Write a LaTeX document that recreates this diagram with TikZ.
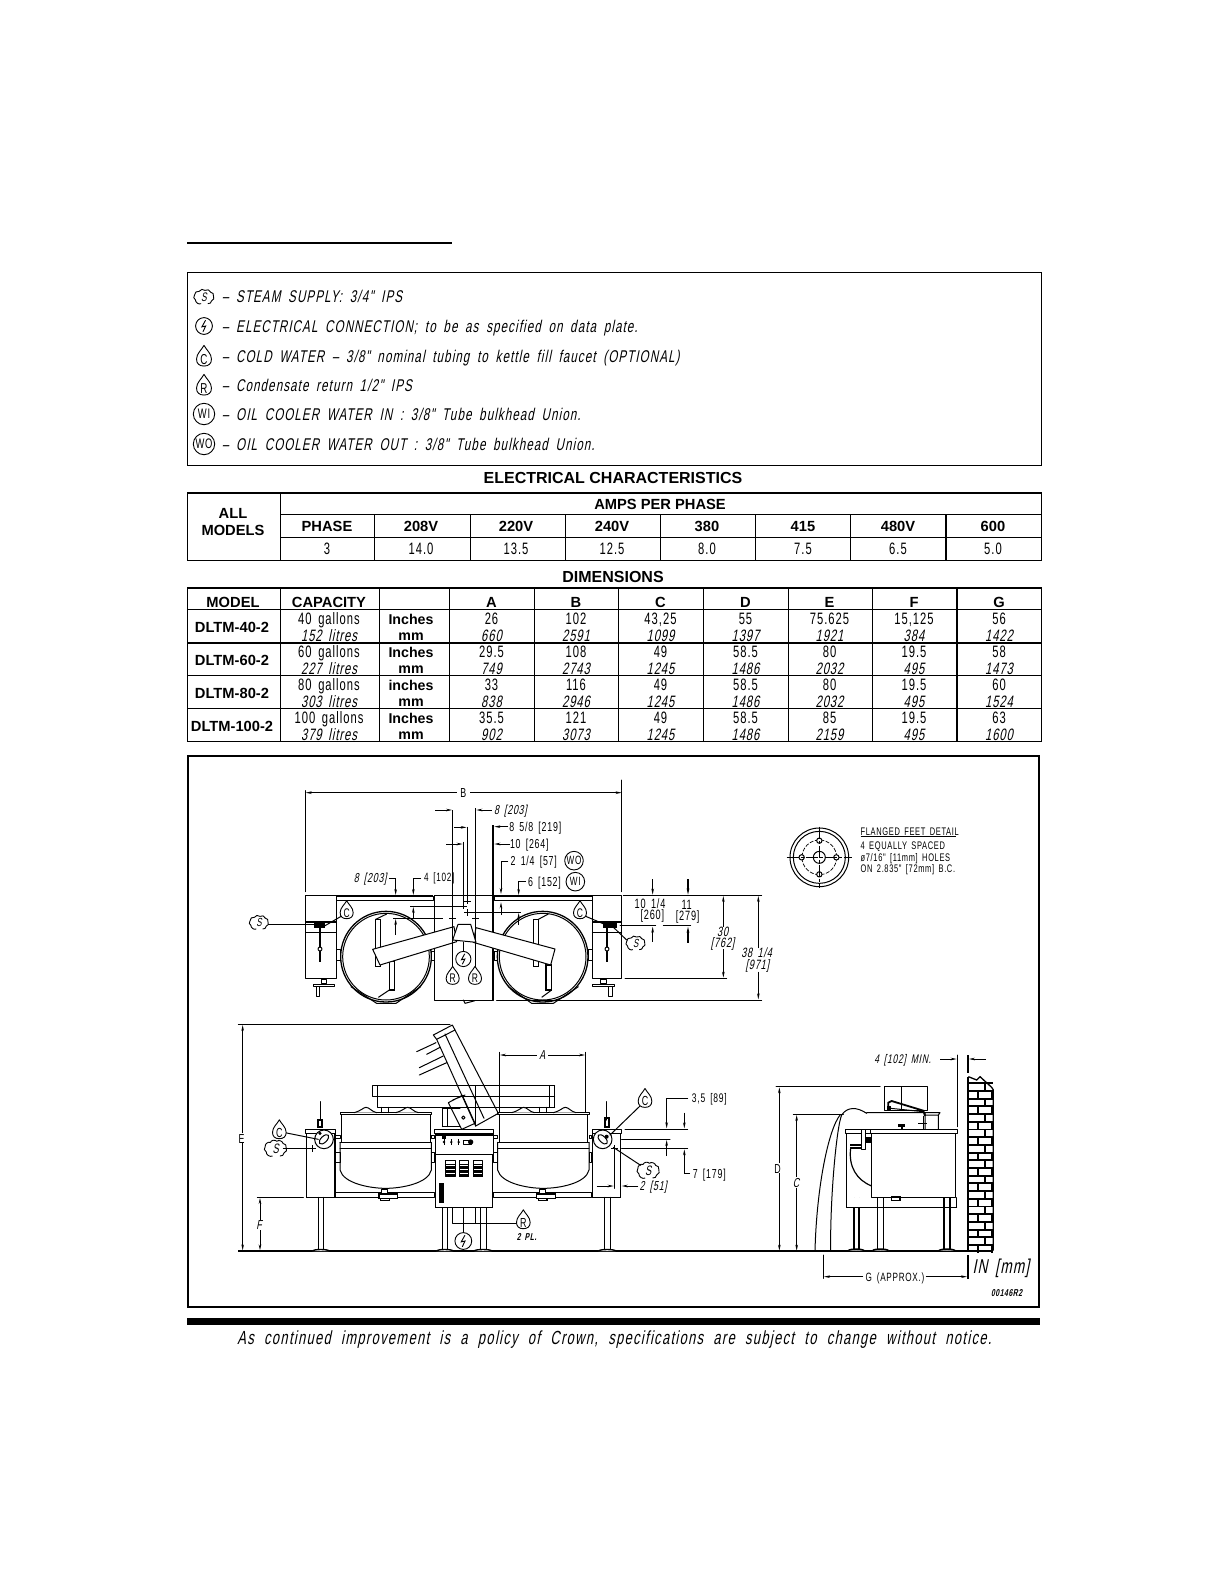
\documentclass[tikz,border=0pt]{standalone}
\usepackage{fontspec}
\setmainfont{Liberation Sans}
\usetikzlibrary{arrows.meta}
\newfontfamily\cad[FakeSlant=0.2,FakeStretch=0.68,LetterSpace=6,WordSpace=1.6]{Liberation Sans}
\newfontfamily\cadu[FakeStretch=0.68,LetterSpace=6,WordSpace=1.6]{Liberation Sans}
\newfontfamily\cadf[FakeSlant=0.2,FakeStretch=0.68,LetterSpace=7,WordSpace=2.1]{Liberation Sans}
\newfontfamily\cadl[FakeSlant=0.2,FakeStretch=0.68,LetterSpace=6.5,WordSpace=1.8]{Liberation Sans}
\newcommand\fsz[1]{\fontsize{#1}{#1}\selectfont}
\tikzset{
 txt/.style={inner sep=0pt,outer sep=0pt,text depth=0pt},
 cadit/.style={txt,font=\cad\fsz{#1},text height=#1*0.72pt},
 cadit/.default=13,
 cadup/.style={txt,font=\cadu\fsz{#1},text height=#1*0.72pt},
 cadup/.default=13,
 legtext/.style={txt,font=\cadl\fsz{17},text height=12.2pt,anchor=west},
 bold/.style={txt,font=\bfseries\fsz{#1},text height=#1*0.72pt},
 bold/.default=14,
 ln/.style={line width=1pt,line cap=round,line join=round},
 thin/.style={line width=0.7pt},
 hv/.style={line width=1.7pt},
 dimar/.style={line width=0.8pt,-{Stealth[length=6pt,width=2.6pt]}},
 symline/.style={line width=0.9pt,line join=round},
 tb/.style={line width=1pt},
 tbh/.style={line width=2pt},
}
% symbols: #1 scale, #2 name, #3 x, #4 y, #5 letter
\newcommand\dropsym[5][1]{\begin{scope}[shift={(#3,#4)},x=1pt,y=-1pt,scale=#1,transform shape]
 \draw[symline,fill=white] (0,-11) .. controls (-2,-7) and (-6.5,-4) .. (-6.5,1) .. controls (-6.5,5) and (-4,7) .. (0,7) .. controls (4,7) and (6.5,5) .. (6.5,1) .. controls (6.5,-4) and (2,-7) .. (0,-11) -- cycle;
 \node[cadup=12.5] (#2) at (0,1) {#5};
\end{scope}}
\newcommand\cloudsym[4][1]{\begin{scope}[shift={(#3,#4)},x=1pt,y=-1pt,scale=#1,transform shape]
 \draw[symline] (-3,7) to[bend left=60] (-9,3) to[bend left=60] (-10,-2) to[bend left=60] (-5,-6) to[bend left=60] (1,-7) to[bend left=60] (7,-5) to[bend left=60] (10,-1) to[bend left=60] (8,4) to[bend left=50] (4,7);
 \node[cadit=13] (#2) at (0,0) {S};
\end{scope}}
\newcommand\elecsym[4][1]{\begin{scope}[shift={(#3,#4)},x=1pt,y=-1pt,scale=#1,transform shape]
 \draw[symline,fill=white] (0,0) circle[radius=8];
 \draw[line width=0.9pt] (1.5,-5.5) -- (-2,0.8) -- (1.6,0) -- (-1,5.5);
 \coordinate (#2) at (0,0);
\end{scope}}
\newcommand\ringsym[5][1]{\begin{scope}[shift={(#3,#4)},x=1pt,y=-1pt,scale=#1,transform shape]
 \draw[symline,fill=white] (0,0) circle[radius=9.3];
 \node[cadup=12] (#2) at (0,0) {#5};
\end{scope}}
\newcommand\tablerow[6]{%
 \node[bold=14.7] (model#1) at (232,{(#2+#3)/2}) {#4};
 \node[cadup=16.5] (gal#1) at (329,#2) {#5};
 \node[cadit=16.5] (lit#1) at (329,#3) {#6};
}
\begin{document}
\begin{tikzpicture}[x=1pt,y=-1pt]
\useasboundingbox (0,0) rectangle (1225,1585);
% top rule
\draw[line width=1.3pt] (187,243) -- (452,243);
% legend
\draw[line width=1.1pt] (187.5,272.3) rectangle (1041.5,465.3);
\cloudsym[0.95]{symS}{204}{297}
\elecsym[1.05]{symE}{204}{326}
\dropsym[1.15]{symC}{204}{358}{C}
\dropsym[1.15]{symR}{204}{387}{R}
\ringsym[1.15]{symWI}{204}{414}{WI}
\ringsym[1.15]{symWO}{204}{444}{WO}
\node[legtext] (leg1) at (222,296.5) {– STEAM SUPPLY: 3/4" IPS};
\node[legtext] (leg2) at (222,326.5) {– ELECTRICAL CONNECTION; to be as specified on data plate.};
\node[legtext] (leg3) at (222,356) {– COLD WATER – 3/8" nominal tubing to kettle fill faucet (OPTIONAL)};
\node[legtext] (leg4) at (222,385) {– Condensate return 1/2" IPS};
\node[legtext] (leg5) at (222,414) {– OIL COOLER WATER IN : 3/8" Tube bulkhead Union.};
\node[legtext] (leg6) at (222,444) {– OIL COOLER WATER OUT : 3/8" Tube bulkhead Union.};
% electrical table
\node[bold=16] (elecT) at (613,478) {ELECTRICAL CHARACTERISTICS};
\draw[tb] (187.5,492.7) rectangle (1041.5,560.3);
\draw[tbh] (187.5,492.7) -- (1041.5,492.7);
\draw[tb] (280.5,492.7) -- (280.5,560.3) (280.5,514.7) -- (1041.5,514.7) (280.5,537.3) -- (1041.5,537.3);
\foreach \vx in {374.5,470,565,660,755,850.5} \draw[tb] (\vx,514.7) -- (\vx,560.3);
\draw[line width=1.6pt] (946,514.7) -- (946,560.3);
\node[bold=14.7] (all) at (233,513) {ALL};
\node[bold=14.7] (models) at (233,530) {MODELS};
\node[bold=14.7] (amps) at (660,504) {AMPS PER PHASE};
\foreach \xc/\h/\v [count=\i] in {327/PHASE/3,421/208V/14.0,516/220V/13.5,612/240V/12.5,707/380/8.0,803/415/7.5,898/480V/6.5,993/600/5.0}{
 \node[bold=14.7] (eh\i) at (\xc,526) {\h};
 \node[cadup=16.5] (ev\i) at (\xc,549) {\v};
}
% dimensions table
\node[bold=16] (dimT) at (613,577) {DIMENSIONS};
\draw[tb] (187.5,587.7) rectangle (1041.5,741.3);
\draw[tbh] (187.5,587.7) -- (1041.5,587.7);
\draw[tb] (187.5,609.3) -- (1041.5,609.3) (187.5,675.7) -- (1041.5,675.7) (187.5,708.7) -- (1041.5,708.7);
\draw[tbh] (187.5,642.7) -- (1041.5,642.7);
\foreach \vx in {280.5,379.5,449,534,618,703,788,872} \draw[tb] (\vx,587.7) -- (\vx,741.3);
\draw[line width=1.6pt] (956.7,587.7) -- (956.7,741.3);
\foreach \xc/\h [count=\i] in {233/MODEL,329/CAPACITY,491.5/A,576/B,660.5/C,745.5/D,829.5/E,914/F,999/G}
 \node[bold=14.7] (dh\i) at (\xc,602) {\h};
\tablerow{a}{619}{635.7}{DLTM-40-2}{40 gallons}{152 litres}
\tablerow{b}{652}{668.7}{DLTM-60-2}{60 gallons}{227 litres}
\tablerow{c}{685}{701.7}{DLTM-80-2}{80 gallons}{303 litres}
\tablerow{d}{718}{734.7}{DLTM-100-2}{100 gallons}{379 litres}
\foreach \yy/\yb/\w [count=\r] in {619/635.7/Inches,652/668.7/Inches,685/701.7/inches,718/734.7/Inches}{
 \node[bold=14.2] (u\r) at (411,\yy) {\w};
 \node[bold=14.2] (m\r) at (411,\yb) {mm};
}
\foreach \xc/\a/\b [count=\i] in {491.5/26/660,576/102/2591,{660.5/43,25/1099},745.5/55/1397,829.5/75.625/1921,{914/15,125/384},999/56/1422}{
 \node[cadup=16.5] (ra\i) at (\xc,619) {\a}; \node[cadit=16.5] (rb\i) at (\xc,635.7) {\b};}
\foreach \xc/\a/\b [count=\i] in {491.5/29.5/749,576/108/2743,660.5/49/1245,745.5/58.5/1486,829.5/80/2032,914/19.5/495,999/58/1473}{
 \node[cadup=16.5] (sa\i) at (\xc,652) {\a}; \node[cadit=16.5] (sb\i) at (\xc,668.7) {\b};}
\foreach \xc/\a/\b [count=\i] in {491.5/33/838,576/116/2946,660.5/49/1245,745.5/58.5/1486,829.5/80/2032,914/19.5/495,999/60/1524}{
 \node[cadup=16.5] (ta\i) at (\xc,685) {\a}; \node[cadit=16.5] (tb\i) at (\xc,701.7) {\b};}
\foreach \xc/\a/\b [count=\i] in {491.5/35.5/902,576/121/3073,660.5/49/1245,745.5/58.5/1486,829.5/85/2159,914/19.5/495,999/63/1600}{
 \node[cadup=16.5] (va\i) at (\xc,718) {\a}; \node[cadit=16.5] (vb\i) at (\xc,734.7) {\b};}
% drawing frame
\draw[line width=2.2pt] (188,755.7) rectangle (1039.3,1306.7);
\fill (187,1318) rectangle (1040,1325);
\node[txt,font=\cadf\fsz{19},text height=13pt] (footer) at (614.5,1338) {As continued improvement is a policy of Crown, specifications are subject to change without notice.};

%%%%%%%%%%%%%% top view (zoom coordinates, 3 units per px)
\begin{scope}[shift={(230,770)},x=0.33333pt,y=-0.33333pt]
 \draw[ln] (227,62)--(227,365) (1175,62)--(1175,365);
 \draw[dimar,line width=1.2pt] (680,68)--(227,68);
 \draw[dimar,line width=1.2pt] (720,68)--(1175,68);
 \node[cadup=13] (dB) at (700,68) {B};
 % kettles
 \foreach \cx in {468,938}{
  \draw[line width=1.3pt] (\cx,560) circle[radius=136];
  \draw[ln] (\cx,560) circle[radius=130];
 }
 \draw[ln] (363,650)--(440,700)--(498,700)--(572,650);
 \draw[ln] (835,650)--(905,700)--(970,700)--(1045,650);
 % inner rods
 \draw[line width=1.1pt,fill=white] (437,448) rectangle (452,590);
 \draw[line width=1.1pt,fill=white] (478,575) rectangle (494,660);
 \draw[line width=1.1pt,fill=white] (910,448) rectangle (925,590);
 \draw[line width=1.1pt,fill=white] (948,585) rectangle (965,660);
 \draw[line width=1pt] (437,448)--(470,432) (478,660)--(445,682) (925,448)--(955,432) (965,660)--(935,682);
 \draw[ln] (318,379) rectangle (610,392);
 \draw[hv] (318,378)--(610,378);
 \draw[ln] (793,379) rectangle (1087,392);
 \draw[hv] (793,378)--(1087,378);
 % trunnions
 \draw[ln] (318,538) rectangle (332,570) (604,545) rectangle (612,572) (793,545) rectangle (802,572) (1075,538) rectangle (1087,570);
 % cabinets
 \draw[ln,fill=white] (227,377) rectangle (318,625);
 \draw[ln,fill=white] (1087,377) rectangle (1175,625);
 \draw[hv] (227,456)--(318,456);
 \draw[ln] (227,487)--(318,487);
 \draw[hv] (1087,456)--(1175,456);
 \draw[ln] (1087,487)--(1175,487);
 \draw[line width=1.6pt] (270,465)--(270,575);
 \draw[line width=1.6pt] (1131,465)--(1131,575);
 \draw[ln,fill=white] (270,537) circle[radius=6];
 \draw[ln,fill=white] (1131,537) circle[radius=6];
 \fill (252,458) rectangle (285,475);
 \fill (1120,458) rectangle (1160,475);
 % feet
 \foreach \fx in {281,1120}{
  \draw[ln] (\fx-8,627) rectangle (\fx+8,640);
  \draw[ln] (\fx-32,642) rectangle (\fx+32,650);
 }
 \draw[ln] (258,650)--(258,680)--(268,680)--(268,650);
 \draw[ln] (1136,650)--(1136,680)--(1146,680)--(1146,650);
 % centre
 \draw[ln,fill=white] (612,377) rectangle (790,690);
 \draw[hv] (790,165)--(790,690);
 \draw[ln] (800,690)--(1260,690);
 \draw[ln] (700,690)--(705,700)--(735,692);
 % handles
 \draw[ln,fill=white] (428,538)--(672,470)--(680,515)--(450,585)--cycle;
 \draw[ln,fill=white] (738,473)--(975,537)--(962,585)--(730,517)--cycle;
 \draw[ln,fill=white] (684,463)--(722,463)--(738,517)--(668,510)--cycle;
 % dimension lines
 \draw[thin] (668,120)--(668,438) (700,215)--(700,400) (712,170)--(712,385) (737,115)--(737,438);
 \draw[thin] (668,450)--(668,600) (700,515)--(700,545) (737,450)--(737,600);
 \draw[dimar] (615,120)--(666,120);
 \draw[dimar] (785,120)--(739,120);
 \draw[dimar] (672,172)--(710,172);
 \draw[dimar] (835,170)--(793,170);
 \draw[dimar] (648,222)--(698,222);
 \draw[dimar] (840,222)--(793,222);
 \draw[dimar] (835,275)--(813,275)--(813,372);
 \draw[dimar] (888,335)--(866,335)--(866,375);
 \draw[dimar] (478,325)--(497,325)--(497,375);
 \draw[dimar] (573,325)--(550,325)--(550,375);
 \draw[thin] (490,444)--(640,444) (540,408)--(612,408) (612,408)--(695,408) (720,427)--(872,427);
 \draw[dimar] (497,495)--(497,447);
 \draw[dimar] (550,445)--(550,411);
 \draw[dimar] (813,435)--(813,397);
 \draw[dimar] (866,465)--(866,429);
 \foreach \mx/\my in {668/444,700/408,712/393,712/427,737/444}{
  \draw[line width=0.9pt] (\mx-10,\my)--(\mx+10,\my) (\mx,\my-10)--(\mx,\my+10);
 }
 % labels
 \node[cadit=13,anchor=west] (d1) at (792,120) {8 [203]};
 \node[cadup=13,anchor=west] (d2) at (838,170) {8 5/8 [219]};
 \node[cadup=13,anchor=west] (d3) at (840,222) {10 [264]};
 \node[cadup=13,anchor=west] (d4) at (842,273) {2 1/4 [57]};
 \node[cadup=13,anchor=west] (d5) at (894,335) {6 [152]};
 \node[cadit=13,anchor=east] (d6) at (470,322) {8 [203]};
 \node[cadup=12,anchor=west] (d7) at (582,322) {4 [102]};
 \ringsym[1]{tWO}{1032}{272}{WO}
 \ringsym[1]{tWI}{1036}{335}{WI}
 % connections
 \draw[ln] (115,463)--(270,463);
 \draw[ln] (335,438)--(280,470);
 \draw[ln] (1065,438)--(1145,472);
 \draw[ln] (1190,510)--(1140,462);
 \cloudsym[0.9]{tS1}{87}{458}
 \cloudsym[0.9]{tS2}{1217}{520}
 \dropsym[1]{tC1}{350}{425}{C}
 \dropsym[1]{tC2}{1050}{425}{C}
 \elecsym[0.95]{tE}{700}{567}
 \dropsym[1]{tR1}{668}{622}{R}
 \dropsym[1]{tR2}{735}{622}{R}
\end{scope}

%%%%%%%%%%%%%% right dims and flange
\begin{scope}[shift={(620,780)},x=0.33333pt,y=-0.33333pt]
 \draw[ln] (10,346)--(425,346) (0,437)--(107,437) (130,437)--(212,437) (15,595)--(320,595) (0,660)--(425,660);
 \draw[ln] (4,30)--(4,0);
 \draw[dimar,line width=1.2pt] (98,298)--(98,344);
 \draw[dimar,line width=1.2pt] (204,298)--(204,344);
 \draw[dimar,line width=1.2pt] (98,485)--(98,440);
 \draw[dimar,line width=1.2pt] (204,488)--(204,440);
 \draw[dimar] (310,440)--(310,348);
 \draw[dimar] (310,508)--(310,593);
 \draw[dimar] (415,505)--(415,348);
 \draw[dimar] (415,575)--(415,658);
 \node[cadup=13.5] (r1) at (90,372) {10 1/4};
 \node[cadup=13.5] (r2) at (97,405) {[260]};
 \node[cadup=13.5] (r3) at (200,375) {11};
 \node[cadup=13.5] (r4) at (203,408) {[279]};
 \node[cadit=13.5] (r5) at (308,455) {30};
 \node[cadit=13.5] (r6) at (308,487) {[762]};
 \node[cadit=13.5] (r7) at (410,519) {38 1/4};
 \node[cadit=13.5] (r8) at (412,553) {[971]};
 % flange
 \draw[ln] (598,232) circle[radius=88] (598,232) circle[radius=78] (598,232) circle[radius=18];
 \draw[thin,dash pattern=on 4pt off 1.5pt] (598,232) circle[radius=52];
 \foreach \hx/\hy in {598/182,649/232,598/283,545/232} \draw[ln,fill=white] (\hx,\hy) circle[radius=8];
 \draw[thin,dash pattern=on 12pt off 2pt on 3pt off 2pt] (500,232)--(695,232);
 \draw[thin,dash pattern=on 12pt off 2pt on 3pt off 2pt] (598,140)--(598,325);
 \node[cadup=11,anchor=west] (f1) at (722,156) {FLANGED FEET DETAIL};
 \draw[thin] (722,170)--(1008,170);
 \node[cadup=11,anchor=west] (f2) at (722,198) {4 EQUALLY SPACED};
 \node[cadup=11,anchor=west] (f3) at (722,232) {ø7/16" [11mm] HOLES};
 \node[cadup=11,anchor=west] (f4) at (722,265) {ON 2.835" [72mm] B.C.};
\end{scope}

%%%%%%%%%%%%%% front view
\begin{scope}[shift={(230,1020)},x=0.33333pt,y=-0.33333pt]
 \draw[line width=1.2pt] (25,693)--(2288,693);
 \draw[ln] (25,13)--(660,13) (82,532)--(220,532);
 \draw[dimar] (38,340)--(38,15);
 \draw[dimar] (38,370)--(38,691);
 \draw[dimar] (90,600)--(90,534);
 \draw[dimar] (90,630)--(90,691);
 \node[cadup=13] (fE) at (35,355) {E};
 \node[cadit=13] (fF) at (87,613) {F};
 % back bar
 \draw[ln] (443,197)--(974,197) (428,230)--(974,230) (443,262)--(974,262) (974,197)--(974,262) (443,197)--(443,262) (428,197)--(428,230)--(443,230) (428,197)--(443,197) (959,197)--(959,262);
 % kettles
 \foreach \d in {0,473}{
 \begin{scope}[xshift=\d*0.33333pt]
  \draw[ln] (330,278) rectangle (604,284);
  \draw[ln] (335,284)--(335,367) (600,284)--(600,367);
  \draw[ln] (330,367)--(604,367) (330,385)--(604,385);
  \draw[ln] (330,367)--(330,450) .. controls (340,490) and (420,505) .. (467,505) .. controls (515,505) and (595,490) .. (604,450) -- (604,367);
  \draw[ln,fill=white] (372,278) .. controls (395,272) and (400,262) .. (408,262) .. controls (418,262) and (425,275) .. (440,278);
  \draw[ln,fill=white] (497,278) .. controls (520,272) and (525,262) .. (533,262) .. controls (543,262) and (550,275) .. (565,278);
  \draw[ln] (455,262)--(455,278) (475,262)--(475,278);
  \draw[ln] (316,398) rectangle (330,428) (604,398) rectangle (612,428) (316,345) rectangle (330,355) (604,345) rectangle (612,355);
  \draw[ln] (316,518) rectangle (612,532);
  \draw[ln,fill=white] (455,507) rectangle (473,522);
  \draw[line width=1.6pt,fill=white] (447,522) rectangle (503,535);
  \draw[line width=1.6pt,fill=white] (452,535) rectangle (478,542);
 \end{scope}}
 % cabinets
 \draw[line width=1.4pt,fill=white] (230,338) rectangle (315,532);
 \draw[ln,fill=white] (227,328) rectangle (317,340);
 \draw[line width=1.4pt,fill=white] (1087,338) rectangle (1172,532);
 \draw[ln,fill=white] (1087,328) rectangle (1175,340);
 % legs
 \foreach \lx/\lw in {265/15,637/15,750/18,1123/17}{
  \draw[ln] (\lx,532)--(\lx,688) (\lx+\lw,532)--(\lx+\lw,688);
  \draw[line width=1.4pt,fill=white] (\lx-17,693) .. controls (\lx-14,687) and (\lx+\lw+14,687) .. (\lx+\lw+17,693);
 }
 % console
 \draw[ln,fill=white] (615,340) rectangle (790,403);
 \draw[line width=1.4pt,fill=white] (616,403) rectangle (788,563);
 \draw[ln,fill=white] (612,328) rectangle (790,340);
 \draw[hv] (616,344)--(788,344);
 \fill (636,349) rectangle (647,356);
 \foreach \bx in {642,664,686}{\fill (\bx,366) circle[radius=4]; \draw[thin] (\bx,358)--(\bx,374);}
 \draw[ln] (700,362) rectangle (725,372); \fill (722,366) circle[radius=8];
 \foreach \vx in {647,688,730}{
  \draw[ln,fill=white] (\vx,422) rectangle (\vx+28,470);
  \foreach \hy in {434,438,...,470} \draw[thin] (\vx,\hy)--(\vx+28,\hy);
 }
 \fill (627,490) rectangle (643,550);
 % tilted kettle
 \draw[ln] (610,45)--(667,15)--(675,30)--(620,58)--cycle;
 \draw[ln] (620,58)--(737,318) (645,42)--(762,295) (675,30)--(805,280)--(737,318);
 \draw[ln] (560,95)--(618,68) (590,103)--(630,82) (568,143)--(640,108) (568,165)--(650,128);
 \draw[ln] (655,248)--(697,226)--(735,310)--(695,328)--cycle (668,240)--(705,225);
 \draw[ln,fill=white] (700,293) circle[radius=5];
 \draw[ln] (637,265)--(637,320) (652,265)--(652,320) (637,320)--(690,320) (637,265)--(690,265) (735,197)--(735,318);
 % faucet left
 \draw[ln] (270,245)--(270,300);
 \draw[line width=1.8pt] (265,300) rectangle (277,322);
 \draw[ln,fill=white] (282,358) circle[radius=28];
 \draw[ln,rotate around={45:(282,358)}] (282,358) ellipse[x radius=18,y radius=9];
 \fill (270,340) circle[radius=5];
 % faucet right
 \draw[ln] (1130,245)--(1130,300);
 \draw[line width=1.8pt] (1124,295) rectangle (1136,322);
 \draw[ln,fill=white] (1118,358) circle[radius=28];
 \draw[ln,rotate around={-45:(1118,358)}] (1118,358) ellipse[x radius=18,y radius=9];
 \fill (1130,350) circle[radius=6];
 % left leaders
 \draw[ln] (165,338)--(265,358);
 \draw[ln] (160,385)--(248,385);
 \draw[line width=0.9pt] (238,385)--(258,385) (248,375)--(248,395);
 \dropsym[1.05]{fC1}{148}{334}{C}
 \cloudsym[1.05]{fS1}{137}{386}
 % services
 \draw[ln] (668,563)--(668,610)--(860,610) (737,563)--(737,610) (700,563)--(700,640);
 \elecsym[1.05]{fE}{700}{663}
 \dropsym[1.05]{fR}{880}{604}{R}
 \node[txt,font=\cad\bfseries\fsz{10}] (fPL) at (890,650) {2 PL.};
 % A dim
 \draw[ln] (808,97)--(808,275) (1067,97)--(1067,275);
 \draw[dimar] (920,105)--(810,105);
 \draw[dimar] (955,105)--(1065,105);
 \node[cadit=13] (fA) at (937,105) {A};
 % right leaders
 \draw[ln] (1230,258)--(1140,345);
 \draw[ln] (1232,436)--(1150,382);
 \draw[line width=0.9pt] (1143,385)--(1163,385) (1153,375)--(1153,395);
 \dropsym[1.05]{fC2}{1245}{240}{C}
 \cloudsym[1.05]{fS2}{1255}{452}
 % 3.5 and 7
 \draw[ln] (1185,327)--(1373,327) (1175,357)--(1320,357) (1175,385)--(1373,385);
 \draw[dimar,line width=1.2pt] (1375,235)--(1310,235)--(1310,325);
 \draw[dimar] (1363,278)--(1363,325);
 \draw[dimar,line width=1.2pt] (1310,408)--(1310,360);
 \draw[dimar] (1380,460)--(1363,460)--(1363,388);
 \node[cadup=12.5] (f35) at (1438,235) {3,5 [89]};
 \node[cadup=13] (f7) at (1438,460) {7 [179]};
 % 2 [51]
 \draw[ln] (1153,395)--(1153,505);
 \draw[dimar] (1100,498)--(1151,498);
 \draw[dimar] (1225,498)--(1175,498);
 \node[cadit=13] (f2in) at (1270,498) {2 [51]};
\end{scope}

%%%%%%%%%%%%%% side view
\begin{scope}[shift={(760,1030)},x=0.33333pt,y=-0.33333pt]
 \draw[ln] (48,170)--(360,170) (100,253)--(250,253);
 \draw[dimar] (58,400)--(58,172);
 \draw[dimar] (58,430)--(58,662);
 \draw[dimar] (110,440)--(110,255);
 \draw[dimar] (110,475)--(110,662);
 \node[cadup=13] (sD) at (53,417) {D};
 \node[cadit=13] (sC) at (108,458) {C};
 % back
 \draw[ln] (372,170) rectangle (503,240) (423,170)--(423,240);
 \draw[ln] (320,248)--(540,248) (495,255)--(535,255)--(535,298) (495,248)--(495,298) (540,248)--(535,255);
 \draw[ln] (260,310)--(260,532)--(333,532) (587,532)--(590,532)--(590,503) (333,532)--(590,532) (255,298) rectangle (333,310);
 \draw[ln] (165,662) .. controls (170,470) and (205,300) .. (240,255) (212,662) .. controls (210,500) and (230,290) .. (245,255) .. controls (262,230) and (290,230) .. (320,250);
 \draw[line width=1.2pt] (272,355) .. controls (265,410) and (290,450) .. (335,468);
 \draw[line width=2pt] (270,345)--(305,345) (270,355)--(305,355);
 \draw[ln,fill=white] (305,298) rectangle (315,358);
 \fill (315,322) rectangle (333,340);
 % front cabinet
 \draw[ln,fill=white] (333,310) rectangle (587,503);
 \draw[ln,fill=white] (330,298) rectangle (592,310);
 \fill (415,282) rectangle (435,290); \fill (422,290) rectangle (430,298);
 \draw[line width=1.8pt] (385,238)--(385,218)--(395,213)--(490,242)--(495,258);
 \fill (380,228) rectangle (392,240);
 \draw[line width=1.6pt] (490,258)--(490,298) (475,280)--(500,280);
 \draw[ln] (392,235)--(490,245);
 \draw[line width=1.6pt] (395,500) rectangle (420,512);
 % legs
 \foreach \lx/\lw/\fa/\fb in {282/15/265/312,352/18/338/385,552/18/537/585}{
  \draw[line width=1.2pt] (\lx,503)--(\lx,658) (\lx+\lw,503)--(\lx+\lw,658);
  \draw[line width=1.6pt,fill=white] (\fa,662) .. controls (\fa+4,656) and (\fb-4,656) .. (\fb,662);
 }
 \fill[white] (275,505) rectangle (305,530);
 \draw[ln] (260,532)--(333,532);
 % floor continuation
 \draw[line width=1.2pt] (0,664)--(700,664);
 % clearance
 \draw[ln] (592,75)--(592,290);
 \draw[hv] (623,75)--(623,130);
 \draw[dimar] (540,87)--(590,87);
 \draw[dimar] (678,87)--(627,87);
 \node[cadit=12.5] (s4) at (428,87) {4 [102] MIN.};
 % wall
 \draw[line width=1.3pt] (625,140)--(650,150)--(660,140)--(695,172)--(700,180)--(700,662);
 \draw[hv] (623,140)--(623,662);
 \foreach \i in {0,...,21}{
  \pgfmathsetmacro\yb{160+23.1*\i}
  \draw[line width=1.9pt] (623,\yb)--(700,\yb);
  \ifodd\i
   \draw[line width=1.9pt] (655,\yb)--(655,\yb+23.1) (695,\yb)--(695,\yb+23.1);
  \else
   \draw[line width=1.9pt] (675,\yb)--(675,\yb+23.1);
  \fi
 }
 % G
 \draw[ln] (190,675)--(190,745);
 \draw[hv] (623,675)--(623,748);
 \draw[dimar] (310,740)--(192,740);
 \draw[dimar] (497,740)--(621,740);
 \node[cadup=12] (sG) at (405,740) {G (APPROX.)};
 \node[cadit=20,anchor=west] (sIN) at (638,710) {IN [mm]};
 \node[font=\cad\bfseries\fsz{10},inner sep=0] (sNum) at (740,788) {00146R2};
\end{scope}
\end{tikzpicture}
\end{document}
